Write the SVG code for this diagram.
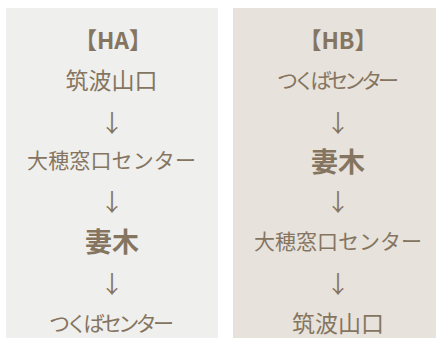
<svg xmlns="http://www.w3.org/2000/svg" width="436" height="338" viewBox="0 0 436 338">
<style>
.t{font-family:"Noto Sans CJK JP","Noto Sans",sans-serif;fill:#857560;text-anchor:middle;dominant-baseline:central}
.r{font-size:21px}
.k{font-size:23px}
.b{font-size:27px;font-weight:bold}
.h{font-size:23px;font-weight:bold}
.a{font-size:24px}
</style>
<rect width="436" height="338" fill="#ffffff"/>
<g id="panelA">
<rect x="6" y="8" width="212" height="330" fill="#efefed"/>
<text class="t h" x="113" y="39">【HA】</text>
<text class="t k" x="111.5" y="79">筑波山口</text>
<text class="t a" x="112" y="121">↓</text>
<text class="t r" x="111.5" y="159" textLength="169">大穂窓口センター</text>
<text class="t a" x="112" y="200">↓</text>
<text class="t b" x="112" y="240">妻木</text>
<text class="t a" x="112" y="282">↓</text>
<text class="t r" x="111.5" y="322" textLength="125">つくばセンター</text>
</g>
<g id="panelB">
<rect x="233" y="8" width="203" height="330" fill="#e7e2dc"/>
<text class="t h" x="338" y="39">【HB】</text>
<text class="t r" x="338" y="79" textLength="122">つくばセンター</text>
<text class="t a" x="338" y="121">↓</text>
<text class="t b" x="338" y="160">妻木</text>
<text class="t a" x="338" y="200">↓</text>
<text class="t r" x="338" y="240" textLength="168">大穂窓口センター</text>
<text class="t a" x="338" y="282">↓</text>
<text class="t k" x="338" y="322">筑波山口</text>
</g>
<g id="connectors"></g>
</svg>
